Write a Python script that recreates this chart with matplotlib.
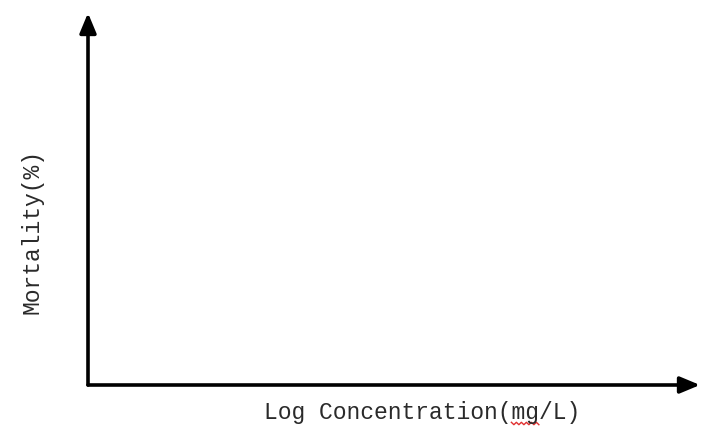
import matplotlib
matplotlib.use("Agg")
import matplotlib.pyplot as plt
import numpy as np

# chart content: empty axes sketch, no data series
x_label = "Log Concentration(mg/L)"
y_label = "Mortality(%)"
x_values = []
y_values = []
squiggle_chars = (18, 20)  # "mg" gets a spell-check underline

plt.rcParams['font.family'] = ['Liberation Mono', 'DejaVu Sans Mono']

fig = plt.figure(figsize=(7.09, 4.30), dpi=100)
ax = fig.add_axes([88 / 709, 45 / 430, 612 / 709, 372 / 430])
ax.plot(x_values, y_values)
ax.set_xlim(0, 1)
ax.set_ylim(0, 1)
for s in ax.spines.values():
    s.set_visible(False)
ax.set_xticks([])
ax.set_yticks([])

arrow = dict(arrowstyle="-|>,head_length=1.2,head_width=0.5", color="black",
             lw=2.6, shrinkA=0, shrinkB=0)
ax.annotate("", xy=(1, 0), xytext=(0, 0), xycoords="axes fraction",
            arrowprops=arrow, annotation_clip=False)
ax.annotate("", xy=(0, 1), xytext=(0, 0), xycoords="axes fraction",
            arrowprops=arrow, annotation_clip=False)

xt = fig.text(422 / 709, 1 - 413 / 430, x_label, ha="center", va="center",
              fontsize=16.6, color="#2a2a2a")
fig.text(32 / 709, 1 - 232 / 430, y_label, ha="center", va="center",
         rotation=90, fontsize=16.6, color="#2a2a2a")

# red wavy underline under "mg", placed from the rendered text extent
fig.canvas.draw()
bb = xt.get_window_extent()
cw = bb.width / len(x_label)
x0 = bb.x0 + squiggle_chars[0] * cw
x1 = bb.x0 + squiggle_chars[1] * cw
xs = np.linspace(x0, x1, 12)
ys = bb.y0 + 1.0 + np.where(np.arange(12) % 2 == 0, 1.2, -1.2)
fig.lines.append(plt.Line2D(xs / fig.bbox.width, ys / fig.bbox.height,
                            transform=fig.transFigure, color="#e03030", lw=1.0))

fig.savefig("out.png", dpi=100)
